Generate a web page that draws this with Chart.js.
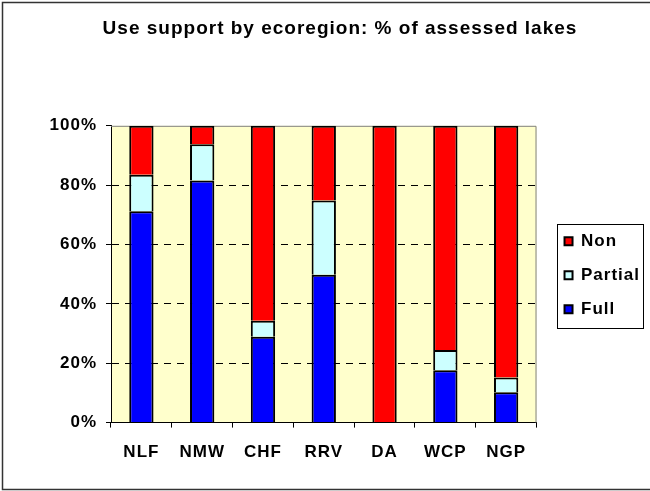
<!DOCTYPE html>
<html>
<head>
<meta charset="utf-8">
<script src="https://cdn.jsdelivr.net/npm/chart.js@4"></script>
<style>
  body { margin: 0; background: #fff; }
  #wrap { width: 650px; height: 491px; }
</style>
</head>
<body>
<div id="wrap"><canvas id="use-chart" width="650" height="491"></canvas></div>
<script>
const regions = ['NLF', 'NMW', 'CHF', 'RRV', 'DA', 'WCP', 'NGP'];
const fullPct = [71.2, 81.6, 28.9, 49.8, 0, 17.6, 10.2];
const partialPct = [12.3, 12.2, 5.4, 25.0, 0, 6.9, 5.0];
const nonPct = [16.5, 6.2, 65.7, 25.2, 100, 75.5, 84.8];
const yTicks = [0, 20, 40, 60, 80, 100];

const FONT = 'Arial, "Liberation Sans", sans-serif';

// Excel-style text is a little wider than plain Arial
const spacing = {
    id: 'spacing',
    beforeLayout(chart) { chart.ctx.letterSpacing = '1px'; },
    beforeDraw(chart) { chart.ctx.letterSpacing = '1px'; }
};

// white page, yellow plot area, outer frame, legend box
const frame = {
    id: 'frame',
    beforeDraw(chart) {
        const {ctx, chartArea: a} = chart;
        ctx.save();
        ctx.fillStyle = '#fff';
        ctx.fillRect(0, 0, chart.width, chart.height);
        ctx.fillStyle = '#FFFFCC';
        ctx.fillRect(a.left, a.top, a.right - a.left, a.bottom - a.top);
        ctx.strokeStyle = '#333';
        ctx.lineWidth = 1.5;
        ctx.beginPath();
        ctx.moveTo(chart.width + 5, 2.5);
        ctx.lineTo(2.5, 2.5);
        ctx.lineTo(2.5, 489.5);
        ctx.lineTo(chart.width + 5, 489.5);
        ctx.stroke();
        ctx.restore();
    },
    beforeDatasetsDraw(chart) {
        const {ctx, chartArea: a} = chart;
        ctx.save();
        ctx.strokeStyle = '#808080';
        ctx.lineWidth = 1;
        ctx.beginPath();
        ctx.moveTo(a.left, a.top + 0.5);
        ctx.lineTo(a.right - 0.5, a.top + 0.5);
        ctx.lineTo(a.right - 0.5, a.bottom);
        ctx.stroke();
        ctx.restore();
    },
    afterLayout(chart) {
        // legend sits a bit right of the plot, centred on it
        const lg = chart.legend;
        if (!lg) return;
        lg.left += 11;
        lg.right += 11;
        lg.top = chart.chartArea.top + 1;
        lg.bottom = chart.chartArea.bottom + 1;
        lg.height = lg.bottom - lg.top;
    },
    afterDraw(chart) {
        const lg = chart.legend;
        if (!lg || !lg.legendHitBoxes.length) return;
        const boxes = lg.legendHitBoxes;
        const x0 = Math.min(...boxes.map(b => b.left)) - 8;
        const y0 = boxes[0].top - 9;
        const y1 = boxes[boxes.length - 1].top + boxes[boxes.length - 1].height + 9.5;
        const ctx = chart.ctx;
        ctx.save();
        ctx.strokeStyle = '#000';
        ctx.lineWidth = 1;
        ctx.strokeRect(Math.round(x0) + 0.5, Math.round(y0) + 0.5, 86, Math.round(y1 - y0));
        ctx.restore();
    }
};

new Chart(document.getElementById('use-chart'), {
    type: 'bar',
    data: {
        labels: regions,
        datasets: [
            { label: 'Full', data: fullPct, backgroundColor: '#0000FF' },
            { label: 'Partial', data: partialPct, backgroundColor: '#CCFFFF' },
            { label: 'Non', data: nonPct, backgroundColor: '#FF0000' }
        ]
    },
    options: {
        responsive: false,
        animation: false,
        devicePixelRatio: 1,
        layout: { padding: { left: 41, right: 11, top: 0, bottom: 13 } },
        datasets: {
            bar: {
                borderColor: '#000',
                borderWidth: 2,
                categoryPercentage: 1,
                barPercentage: 0.4
            }
        },
        scales: {
            x: {
                stacked: true,
                grid: { drawOnChartArea: false, drawTicks: true, tickLength: 5, tickColor: '#000' },
                border: { color: '#000', width: 1 },
                ticks: { color: '#000', padding: 15, font: { family: FONT, size: 17, weight: 'bold' } }
            },
            y: {
                stacked: true,
                min: 0,
                max: 100,
                afterFit(scale) { scale.width = 70; },
                afterBuildTicks(scale) { scale.ticks = yTicks.map(v => ({ value: v })); },
                grid: {
                    color: c => (c.tick && (c.tick.value === 0 || c.tick.value === 100)) ? 'rgba(0,0,0,0)' : '#000',
                    lineWidth: 1,
                    tickLength: 5,
                    tickColor: '#000'
                },
                border: { color: '#000', width: 1, dash: [7, 6] },
                ticks: {
                    color: '#000',
                    padding: 9,
                    font: { family: FONT, size: 17, weight: 'bold' },
                    callback: v => v + '%'
                }
            }
        },
        plugins: {
            title: {
                display: true,
                text: 'Use support by ecoregion: % of assessed lakes',
                color: '#000',
                font: { family: FONT, size: 19, weight: 'bold' },
                padding: { top: 17, bottom: 86 }
            },
            legend: {
                position: 'right',
                reverse: true,
                labels: {
                    color: '#000',
                    boxWidth: 8,
                    boxHeight: 8,
                    padding: 17,
                    font: { family: FONT, size: 17, weight: 'bold' }
                }
            },
            tooltip: { enabled: false }
        }
    },
    plugins: [spacing, frame]
});
</script>
</body>
</html>
